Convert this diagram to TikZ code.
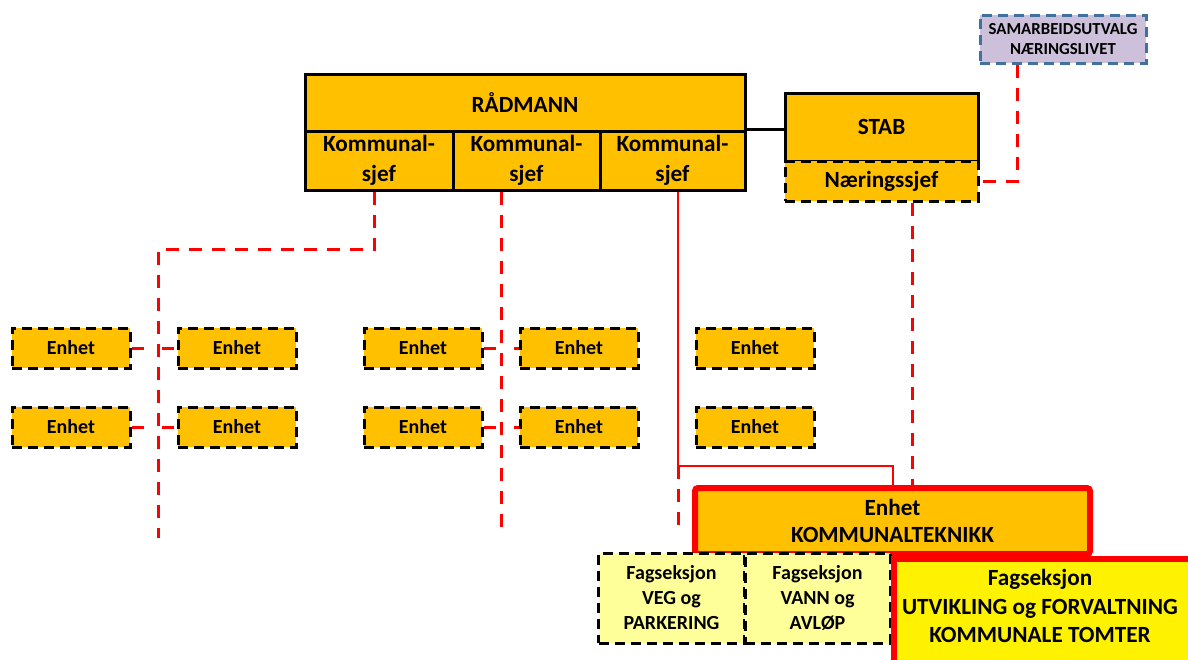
\documentclass[tikz,border=0pt]{standalone}
\usepackage{fontspec}
\setmainfont{Carlito}
\usepackage{tikz}
\usetikzlibrary{calc, positioning, arrows.meta}
\definecolor{gull}{HTML}{FFC000}
\definecolor{lysgul}{HTML}{FFFF99}
\definecolor{lilla}{HTML}{CCC0DA}
\definecolor{blaakant}{HTML}{41719C}
\tikzset{
    boks/.style = {rectangle, draw, line width=1.5pt, fill=gull, align=center, font=\bfseries, inner sep=1pt},% solid leader box
    stiplet/.style = {boks, dash pattern=on 5pt off 3pt},% dashed box (units, Næringssjef)
    enhet/.style = {stiplet, minimum width=59pt, minimum height=20pt, font=\bfseries\fontsize{10}{12}\selectfont},
    fag/.style = {stiplet, fill=lysgul, minimum width=73pt, minimum height=45pt, font=\bfseries\fontsize{10}{12.5}\selectfont},
    rodstrek/.style = {draw=red, line width=1.5pt, dash pattern=on 6.5pt off 5pt},
    rodlinje/.style = {draw=red, line width=1pt}
}
\begin{document}
\begin{tikzpicture}[x=0.5pt, y=-0.5pt]
    \useasboundingbox (0,0) rectangle (1188,659);
    \clip (0,0) rectangle (1188,659);
    % leader boxes
    \node [boks, minimum width=220pt, minimum height=28.5pt, font=\bfseries\fontsize{11.6}{14}\selectfont] (rad) at (525,103) {RÅDMANN};
    \node [boks, minimum width=74pt, minimum height=29.5pt, font=\bfseries\fontsize{11.6}{15}\selectfont] (ks1) at (379,160.5) {Kommunal-\\sjef};
    \node [boks, minimum width=73.5pt, minimum height=29.5pt, font=\bfseries\fontsize{11.6}{15}\selectfont] (ks2) at (526.5,160.5) {Kommunal-\\sjef};
    \node [boks, minimum width=72.5pt, minimum height=29.5pt, font=\bfseries\fontsize{11.6}{15}\selectfont] (ks3) at (672.5,160.5) {Kommunal-\\sjef};
    \node [boks, minimum width=96.5pt, minimum height=34pt, font=\bfseries\fontsize{11.6}{14}\selectfont] (stab) at (881.5,127) {STAB};
    \node [stiplet, minimum width=96.5pt, minimum height=20pt, font=\bfseries\fontsize{11.6}{14}\selectfont] (naer) at (881.5,181) {Næringssjef};
    \node [stiplet, fill=lilla, draw=blaakant, minimum width=83pt, minimum height=24pt, font=\bfseries\fontsize{8.4}{10}\selectfont] (samarb) at (1063,39) {SAMARBEIDSUTVALG\\NÆRINGSLIVET};
    % units
    \foreach \navn/\xx in {a/71, b/237, c/423, d/579, e/755} {
        \node [enhet] (\navn1) at (\xx,348) {Enhet};
        \node [enhet] (\navn2) at (\xx,427) {Enhet};
    }
    % connectors
    \draw [line width=1.5pt] (ks3.north east) -- (ks3.north east -| stab.west);
    \draw [rodstrek] ([xshift=19.5pt]samarb.south west) |- (naer.east);
    \draw [rodstrek] ([xshift=15.25pt]naer.south) -- ++(0,286);
    \coordinate (k1) at (158,249);
    \coordinate (k1slutt) at (158,538);
    \draw [rodstrek] ([xshift=-2.5pt]ks1.south) |- (k1) -- (k1slutt);
    \coordinate (k2slutt) at (501,535);
    \draw [rodstrek] (ks2.south -| k2slutt) -- (k2slutt);
    \foreach \v/\h in {a/b, c/d} {
        \draw [rodstrek, dash pattern=on 6pt off 9pt] (\v1.east) -- (\h1.west);
        \draw [rodstrek, dash pattern=on 6pt off 9pt] (\v2.east) -- (\h2.west);
    }
    \coordinate (k3) at (678,466);
    \coordinate (k3slutt) at (678,525);
    \draw [rodlinje] (ks3.south -| k3) -- (k3) -| (893,487);
    \draw [rodstrek] (k3) -- (k3slutt);
    % Kommunalteknikk with sections
    \node [boks, draw=red, line width=3pt, rounded corners=1.5pt, minimum width=197.5pt, minimum height=33pt, font=\bfseries\fontsize{11.6}{13.5}\selectfont] (kt) at (892.5,521) {Enhet\\KOMMUNALTEKNIKK};
    \node [fag] (veg) at (671.5,598) {Fagseksjon\\VEG og\\PARKERING};
    \node [fag, minimum width=72.5pt] (vann) at (817.5,598) {Fagseksjon\\VANN og\\AVLØP};
    \node [boks, draw=red, line width=3pt, fill=yellow, minimum width=160pt, minimum height=58pt, anchor=north west, font=\bfseries\fontsize{11.6}{16.5}\selectfont] (utv) at (891,556) {};
    \node [font=\bfseries\fontsize{11.6}{14.3}\selectfont, align=center] (utvtekst) at (1040,606) {Fagseksjon\\UTVIKLING og FORVALTNING\\KOMMUNALE TOMTER};
\end{tikzpicture}
\end{document}
